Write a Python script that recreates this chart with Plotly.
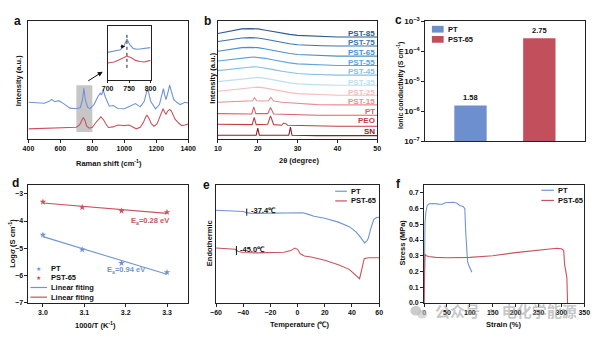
import plotly.graph_objects as go
import numpy as np

W, H = 604, 337
BLUE = "#7094d2"
RED = "#c9525c"
FONT = "Liberation Sans, Arial, sans-serif"

# ---------------- panel a : Raman ----------------
raman_x_pt = [400, 450, 500, 530, 545, 565, 590, 620, 660, 700, 725, 738, 747, 756, 770, 785, 810, 835, 850,
              858, 868, 880, 895, 906, 930, 960, 1000, 1040, 1070, 1100, 1125, 1140, 1150, 1165, 1196, 1220,
              1235, 1245, 1253, 1261, 1272, 1284, 1295, 1310, 1329, 1350, 1380, 1400]
raman_pt = [112, 110, 109, 115, 121, 114, 117, 108, 94, 92, 96, 120, 155, 120, 97, 92, 105, 130, 140,
            135, 150, 130, 110, 100, 102, 93, 92, 100, 108, 98, 115, 145, 148, 115, 92, 105,
            135, 154, 135, 120, 140, 165, 145, 120, 112, 105, 112, 110]
raman_x_sn = [400, 450, 500, 550, 600, 650, 700, 720, 735, 743, 752, 765, 780, 800, 820, 840, 853, 862, 870,
              885, 900, 930, 960, 980, 1000, 1030, 1050, 1075, 1100, 1120, 1135, 1142, 1155, 1170, 1186, 1205,
              1225, 1237, 1243, 1252, 1261, 1272, 1284, 1295, 1318, 1340, 1360, 1380, 1400]
raman_sn = [30, 31, 31, 32, 32, 33, 35, 42, 60, 65, 58, 38, 32, 35, 48, 60, 67, 62, 58,
            45, 34, 36, 42, 41, 40, 42, 36, 30, 35, 50, 68, 72, 62, 45, 38, 45,
            70, 90, 92, 82, 75, 85, 90, 85, 60, 48, 40, 42, 45]
# inset
inset_x_pt = [700, 715, 730, 738, 745, 752, 760, 770, 780, 790, 800]
inset_pt = [51, 53, 56, 63, 76, 65, 58, 57, 58, 59, 60]
inset_x_sn = [700, 715, 725, 735, 745, 755, 765, 775, 785, 800]
inset_sn = [31, 33, 36, 40, 44, 41, 36, 34, 33, 36]

# ---------------- panel b : XRD ----------------
xrd_names = ["PST-85", "PST-75", "PST-65", "PST-55", "PST-45", "PST-35", "PST-25",
             "PST-15", "PT", "PEO", "SN"]
xrd_colors = ["#2f5b88", "#3b74ae", "#4b90cc", "#5fa5d9", "#86bfe4", "#bfdef0", "#f4bcbc",
              "#ea8d92", "#d9626b", "#c33d47", "#8d1d26"]
xrd_label_y = [326, 298, 266, 236, 206, 174, 143, 113, 83, 56, 23]
x_am = [10, 12, 14, 16, 18, 19, 20, 22, 24, 26, 28, 30, 33, 36, 40, 45, 50]
xrd_x = [x_am] * 7 + [
    [10, 14, 17, 18.7, 19.2, 19.7, 21, 22.7, 23.3, 24, 26, 30, 35, 40, 50],
    [10, 15, 18.5, 19, 19.5, 22.5, 23.2, 24, 28, 35, 50],
    [10, 15, 18.6, 19.1, 19.6, 22.5, 23.2, 24, 26, 26.5, 27, 27.5, 30, 40, 50],
    [10, 15, 19.6, 20, 20.4, 25, 27.8, 28.2, 28.6, 35, 50],
]
xrd_y = [
    [325, 330, 335, 339, 340, 340, 339, 335, 330, 325, 322, 319, 317, 315, 314, 314, 314],
    [300, 304, 308, 311, 312, 312, 311, 307, 302, 297, 293, 290, 288, 287, 286, 286, 286],
    [270, 274, 278, 281, 282, 282, 281, 277, 272, 267, 263, 260, 258, 256, 255, 255, 255],
    [240, 243, 247, 250, 251, 252, 251, 248, 243, 238, 234, 231, 229, 227, 226, 226, 226],
    [210, 213, 216, 219, 221, 222, 221, 218, 213, 208, 204, 201, 199, 197, 196, 196, 196],
    [176, 179, 182, 185, 188, 189, 189, 186, 181, 176, 172, 169, 167, 166, 165, 165, 165],
    [146, 149, 152, 155, 158, 159, 159, 156, 151, 146, 142, 139, 137, 135, 134, 134, 134],
    [112, 114, 116, 117, 126, 117, 116, 117, 127, 116, 112, 108, 105, 104, 104],
    [77, 76, 76, 98, 77, 77, 96, 76, 74, 72, 72],
    [44, 43, 43, 65, 43, 44, 70, 43, 41, 48, 46, 41, 40, 38, 38],
    [10, 10, 10, 32, 10, 10, 10, 35, 10, 9, 9],
]

# ---------------- panel c : conductivity ----------------
cond_names = ["PT", "PST-65"]
cond_vals = [1.58e-6, 2.75e-4]
cond_labels = ["1.58", "2.75"]
cond_colors = ["#6e8fcd", "#c2505c"]

# ---------------- panel d : Arrhenius ----------------
arr_x = [3.0, 3.095, 3.19, 3.3]
arr_pt = [-4.51, -5.05, -5.54, -5.88]
arr_sn = [-3.30, -3.50, -3.63, -3.68]

# ---------------- panel e : DSC ----------------
dsc_t_pt = [-60, -50, -40, -38, -35, -30, -20, -10, 0, 4, 8, 12, 20, 30, 38, 43, 46.5, 49.2, 51, 52, 54, 56, 58, 60]
dsc_pt = [287, 285, 283, 280, 278, 277, 277, 277, 279, 279, 274, 268, 262, 250, 236, 220, 202, 186, 192, 200, 232, 258, 264, 265]
dsc_t_sn = [-60, -50, -46, -44, -40, -30, -20, -10, -5, -2, 0, 2, 5, 10, 20, 30, 38, 42, 45.6, 47, 48, 49, 52, 60]
dsc_sn = [170, 168, 166, 160, 156, 155, 155, 157, 162, 170, 166, 152, 145, 142, 132, 118, 104, 90, 75, 100, 125, 137, 140, 140]
tg_vals = [-37.4, -45.0]
tg_y = [(270, 292), (148, 176)]

# ---------------- panel f : stress-strain ----------------
ss_x_pt = [0, 1, 2, 4, 7, 11, 20, 32, 40, 46, 55, 64, 71, 78, 85, 89, 91, 93, 95, 97.5, 100, 104.5]
ss_pt = [0, 0.30, 0.51, 0.58, 0.62, 0.63, 0.632, 0.628, 0.627, 0.637, 0.638, 0.64, 0.635, 0.62, 0.614, 0.60,
         0.45, 0.33, 0.265, 0.24, 0.22, 0.195]
ss_x_sn = [0, 1, 2, 5, 10, 25, 50, 100, 150, 200, 250, 290, 300, 305, 307, 310, 312, 313, 313.5]
ss_sn = [0, 0.20, 0.31, 0.30, 0.295, 0.29, 0.287, 0.29, 0.30, 0.32, 0.338, 0.348, 0.345, 0.335, 0.245, 0.18,
         0.16, 0.05, 0]


def px(x):
    return x / W


def py(y):
    return 1 - y / H


def dom_x(a, b):
    return [px(a), px(b)]


def dom_y(top, bottom):
    return [py(bottom), py(top)]


fig = go.Figure()
LW = 1.1

# a
fig.add_trace(go.Scatter(x=raman_x_pt, y=raman_pt, mode="lines", line=dict(color=BLUE, width=LW), xaxis="x", yaxis="y"))
fig.add_trace(go.Scatter(x=raman_x_sn, y=raman_sn, mode="lines", line=dict(color=RED, width=LW), xaxis="x", yaxis="y"))
fig.add_trace(go.Scatter(x=inset_x_pt, y=inset_pt, mode="lines", line=dict(color=BLUE, width=LW), xaxis="x7", yaxis="y7"))
fig.add_trace(go.Scatter(x=inset_x_sn, y=inset_sn, mode="lines", line=dict(color=RED, width=LW), xaxis="x7", yaxis="y7"))
# b
for xs, ys, c in zip(xrd_x, xrd_y, xrd_colors):
    fig.add_trace(go.Scatter(x=xs, y=ys, mode="lines", line=dict(color=c, width=LW), xaxis="x2", yaxis="y2"))
# c
fig.add_trace(go.Bar(x=cond_names, y=cond_vals, marker=dict(color=cond_colors, line=dict(width=0)),
                     width=0.47, xaxis="x3", yaxis="y3"))
# d
for ys, c in [(arr_pt, BLUE), (arr_sn, RED)]:
    k, b = np.polyfit(arr_x, ys, 1)
    fx = [arr_x[0], arr_x[-1]]
    fig.add_trace(go.Scatter(x=fx, y=[k * v + b for v in fx], mode="lines", line=dict(color=c, width=LW),
                             xaxis="x4", yaxis="y4"))
    fig.add_trace(go.Scatter(x=arr_x, y=ys, mode="markers", marker=dict(symbol="star", size=5, color=c),
                             xaxis="x4", yaxis="y4"))
# e
fig.add_trace(go.Scatter(x=dsc_t_pt, y=dsc_pt, mode="lines", line=dict(color=BLUE, width=LW), xaxis="x5", yaxis="y5"))
fig.add_trace(go.Scatter(x=dsc_t_sn, y=dsc_sn, mode="lines", line=dict(color=RED, width=LW), xaxis="x5", yaxis="y5"))
# f
fig.add_trace(go.Scatter(x=ss_x_pt, y=ss_pt, mode="lines", line=dict(color=BLUE, width=LW), xaxis="x6", yaxis="y6"))
fig.add_trace(go.Scatter(x=ss_x_sn, y=ss_sn, mode="lines", line=dict(color=RED, width=LW), xaxis="x6", yaxis="y6"))

TICKF = dict(family=FONT, size=7, color="#111", weight="bold")
base = dict(showline=True, mirror=True, linecolor="#222", linewidth=1, showgrid=False, zeroline=False,
            ticks="outside", ticklen=3, tickwidth=1, tickcolor="#222", tickfont=TICKF)
noy = dict(showline=True, mirror=True, linecolor="#222", linewidth=1, showgrid=False, zeroline=False,
           showticklabels=False, ticks="")

TOP = (15, 137)
BOT = (185, 307)
layout = dict(
    width=W, height=H, margin=dict(l=0, r=0, t=0, b=0), showlegend=False,
    paper_bgcolor="white", plot_bgcolor="white",
    font=dict(family=FONT, size=7, color="#111", weight="bold"),
    xaxis=dict(base, domain=dom_x(23, 186.5), range=[400, 1400], dtick=200, tick0=400, anchor="y"),
    yaxis=dict(noy, domain=dom_y(*TOP), range=[0, 365], anchor="x"),
    xaxis2=dict(base, domain=dom_x(217, 380), range=[10, 50], dtick=10, anchor="y2"),
    yaxis2=dict(noy, domain=dom_y(*TOP), range=[0, 365], anchor="x2"),
    xaxis3=dict(noy, domain=dom_x(429, 593), type="category", range=[-0.66, 1.667], anchor="y3"),
    yaxis3=dict(base, domain=dom_y(16, 140), type="log", range=[-7.0001, -2.9999], dtick=1, exponentformat="power",
                showexponent="all", anchor="x3", tickfont=dict(TICKF, size=6.5)),
    xaxis4=dict(base, domain=dom_x(23, 186), range=[2.965, 3.35], dtick=0.1, tick0=3.0, tickformat=".1f", anchor="y4"),
    yaxis4=dict(base, domain=dom_y(*BOT), range=[-7.001, -2.68], tickvals=[-7, -6, -5, -4, -3], anchor="x4"),
    xaxis5=dict(base, domain=dom_x(215, 382), range=[-60, 60], dtick=20, anchor="y5"),
    yaxis5=dict(noy, domain=dom_y(*BOT), range=[0, 365], anchor="x5"),
    xaxis6=dict(base, domain=dom_x(428, 592), range=[0, 350], dtick=50, anchor="y6"),
    yaxis6=dict(base, domain=dom_y(*BOT), range=[0, 0.75], dtick=0.1, tickformat=".1f", anchor="x6"),
    xaxis7=dict(base, domain=dom_x(104, 148), range=[700, 800], dtick=50, anchor="y7", ticklen=2),
    yaxis7=dict(noy, domain=dom_y(21, 76), range=[0, 100], anchor="x7"),
)
fig.update_layout(**layout)

shapes = []
ann = []


def text(x, y, s, size=7.5, color="#111", xanchor="center", angle=0, yanchor="middle", family=FONT):
    ann.append(dict(x=px(x), y=py(y), xref="paper", yref="paper", text=s, showarrow=False,
                    font=dict(family=family, size=size, color=color, weight="bold"),
                    xanchor=xanchor, yanchor=yanchor, textangle=angle))


# panel letters
for L, x, y in [("a", 12, 16), ("b", 206, 16), ("c", 402, 14), ("d", 10, 183), ("e", 205, 185), ("f", 402, 184)]:
    text(x, y, L, size=12)

# axis titles
text(105, 162, "Raman shift (cm<sup>-1</sup>)")
text(13, 77, "Intensity (a.u.)", angle=-90)
text(300, 160, "2θ (degree)")
text(211, 75, "Intensity (a.u.)", angle=-90)
text(404, 82, "Ionic conductivity (S cm<sup>-1</sup>)", angle=-90, size=7)
text(92, 330, "1000/T (K<sup>-1</sup>)")
text(6, 245, "Logσ (S cm<sup>-1</sup>)", angle=-90)
text(300, 329, "Temperature (℃)")
text(208, 245, "Endothermic", angle=-90)
text(510, 329, "Strain (%)")
text(405, 245, "Stress (MPa)", angle=-90)

# panel a decorations
shapes.append(dict(type="rect", xref="x", yref="y", x0=700, x1=800, y0=20, y1=165,
                   fillcolor="rgba(160,160,160,0.6)", line=dict(width=0), layer="below"))
shapes.append(dict(type="line", xref="x7", yref="y7", x0=745, x1=745, y0=22, y1=84,
                   line=dict(color="#222", width=1, dash="dot")))
ann.append(dict(x=px(99), y=py(68), xref="paper", yref="paper", ax=-16, ay=10, text="", showarrow=True,
                arrowhead=2, arrowsize=1, arrowwidth=1, arrowcolor="#111"))
ann.append(dict(x=741, y=62, xref="x7", yref="y7", ax=727, ay=62, axref="x7", ayref="y7", text="",
                showarrow=True, arrowhead=2, arrowsize=0.8, arrowwidth=1, arrowcolor="#111"))

# panel b labels
for name, yv, c in zip(xrd_names, xrd_label_y, xrd_colors):
    ann.append(dict(x=50, y=yv, xref="x2", yref="y2", text=name, showarrow=False, xanchor="right",
                    yanchor="middle", font=dict(family=FONT, size=8, color=c, weight="bold")))

# panel c bar labels + legend
for name, v, lab in zip(cond_names, cond_vals, cond_labels):
    ann.append(dict(x=name, y=np.log10(v), xref="x3", yref="y3", text=lab, showarrow=False, yanchor="bottom",
                    yshift=1, font=dict(family=FONT, size=7.5, color="#111", weight="bold")))
for i, (name, c) in enumerate(zip(cond_names, cond_colors)):
    yy = 24 + i * 10.5
    shapes.append(dict(type="rect", xref="paper", yref="paper", x0=px(436), x1=px(448), y0=py(yy + 3.5),
                       y1=py(yy - 3.5), fillcolor=c, line=dict(width=0)))
    text(450, yy, name, xanchor="left")

# panel d legend + Ea labels
leg_d = [("PT", BLUE, "m"), ("PST-65", RED, "m"), ("Linear fiting", BLUE, "l"), ("Linear fiting", RED, "l")]
for i, (name, c, kind) in enumerate(leg_d):
    yy = 271 + i * 10
    if kind == "m":
        text(33, yy, "★", size=6, color=c, family="DejaVu Sans")
    else:
        shapes.append(dict(type="line", xref="paper", yref="paper", x0=px(25), x1=px(42), y0=py(yy), y1=py(yy),
                           line=dict(color=c, width=1.2)))
    text(44, yy, name, xanchor="left", size=7.5)
text(147, 222, "E<sub>a</sub>=0.28 eV", color=RED, size=7.5)
text(123, 273, "E<sub>a</sub>=0.94 eV", color=BLUE, size=7.5)

# panel e Tg markers + legend
for tg, (y0, y1), lab in zip(tg_vals, tg_y, ["-37.4℃", "-45.0℃"]):
    shapes.append(dict(type="line", xref="x5", yref="y5", x0=tg, x1=tg, y0=y0, y1=y1, line=dict(color="#111", width=1)))
    ann.append(dict(x=tg + 1.5, y=(y0 + y1) / 2 + 4, xref="x5", yref="y5", text=lab, showarrow=False,
                    xanchor="left", font=dict(family=FONT, size=7.5, color="#111", weight="bold")))

for x0, x1, tx, ys in [(337, 349, 351, (191.5, 201.5)), (548, 561, 563, (190.5, 201))]:
    for yy, c, name in zip(ys, [BLUE, RED], ["PT", "PST-65"]):
        shapes.append(dict(type="line", xref="paper", yref="paper", x0=px(x0), x1=px(x1), y0=py(yy), y1=py(yy),
                           line=dict(color=c, width=1.2)))
        text(tx, yy, name, xanchor="left", size=7.5)

# watermark
shapes.append(dict(type="circle", xref="paper", yref="paper", x0=px(414), x1=px(425), y0=py(320), y1=py(310),
                   fillcolor="rgba(170,170,170,0.6)", line=dict(width=0)))
shapes.append(dict(type="circle", xref="paper", yref="paper", x0=px(421), x1=px(431), y0=py(323), y1=py(314),
                   fillcolor="rgba(190,190,190,0.6)", line=dict(width=0)))
ann.append(dict(x=px(437), y=py(315), xref="paper", yref="paper", text="公众号 · 电化学能源", showarrow=False,
                xanchor="left", yanchor="middle",
                font=dict(family="Noto Sans CJK SC", size=15, color="rgba(150,150,150,0.55)")))

fig.update_layout(shapes=shapes, annotations=ann)
fig.write_html("out.html")
